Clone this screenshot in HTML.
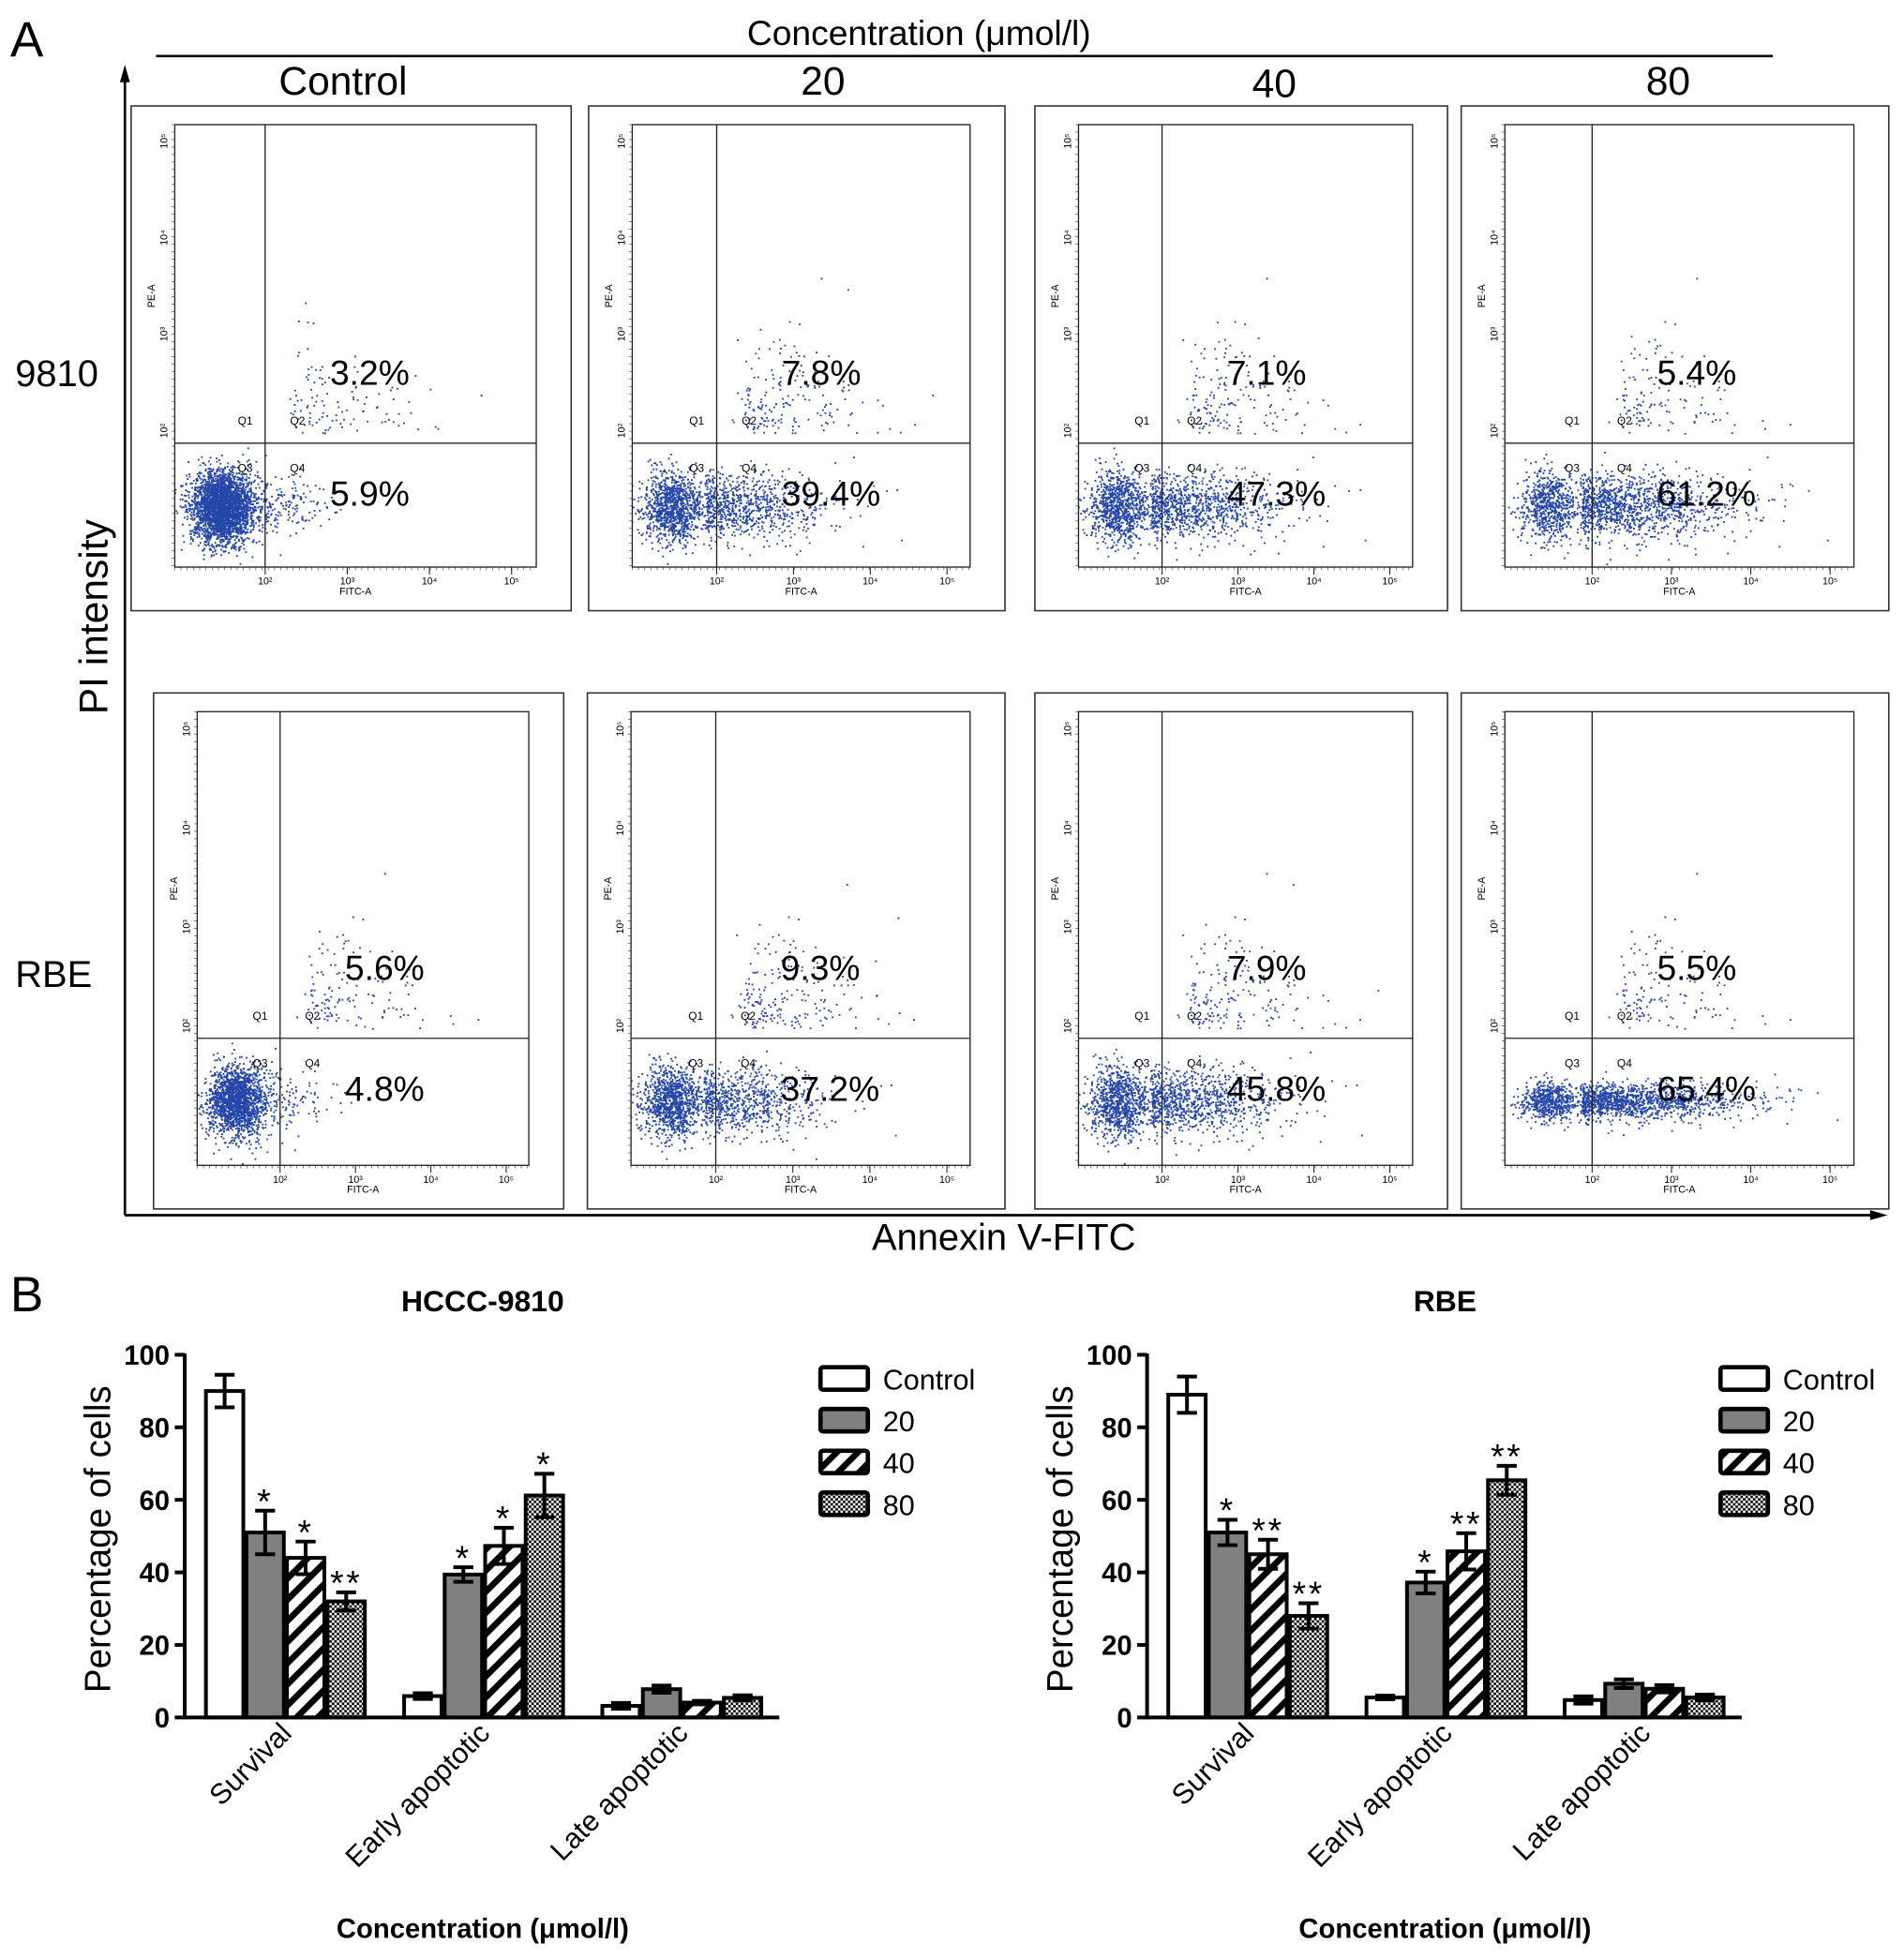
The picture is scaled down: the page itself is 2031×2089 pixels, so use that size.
<!DOCTYPE html>
<html><head><meta charset="utf-8"><style>
html,body{margin:0;padding:0;background:#fff}
svg{display:block}
text{font-family:"Liberation Sans",Arial,sans-serif}
</style></head><body>
<svg id="fig" width="2031" height="2089" viewBox="0 0 1527 1571" xmlns="http://www.w3.org/2000/svg">
<defs id="defs">
<pattern id="stripe" patternUnits="userSpaceOnUse" width="12" height="12" patternTransform="rotate(45)">
<rect width="12" height="12" fill="#fff"/><rect width="5" height="12" fill="#000"/></pattern>
<pattern id="check" patternUnits="userSpaceOnUse" width="4" height="4">
<rect width="4" height="4" fill="#fff"/><rect width="2" height="2" fill="#000"/><rect x="2" y="2" width="2" height="2" fill="#000"/></pattern>
</defs>
<text x="8" y="45" font-size="40">A</text>
<text x="737" y="36" font-size="28" text-anchor="middle">Concentration (μmol/l)</text>
<line x1="125" y1="45" x2="1422" y2="45" stroke="#000" stroke-width="2"/>
<text x="275" y="76" font-size="32" text-anchor="middle">Control</text>
<text x="660" y="76" font-size="32" text-anchor="middle">20</text>
<text x="1022" y="78" font-size="32" text-anchor="middle">40</text>
<text x="1338" y="76" font-size="32" text-anchor="middle">80</text>
<line x1="100" y1="975" x2="100" y2="60" stroke="#000" stroke-width="2"/>
<polygon points="100,52 96,66 104,66" fill="#000"/>
<line x1="100" y1="975" x2="1505" y2="975" stroke="#000" stroke-width="2"/>
<polygon points="1514,975 1500,971 1500,979" fill="#000"/>
<text transform="translate(86,495) rotate(-90)" font-size="32" text-anchor="middle">PI  intensity</text>
<text x="805" y="1003" font-size="30" text-anchor="middle">Annexin V-FITC</text>
<text x="12" y="310" font-size="30">9810</text>
<text x="12" y="792" font-size="30">RBE</text>
<text x="8" y="1052" font-size="40">B</text>
<g id="flow"></g>
<g id="bars"></g>
</svg>
<script>
// Flow cytometry data
const flowRows = ["9810","RBE"];
const flowCols = ["Control","20","40","80"];
const q2Pct = [[3.2,7.8,7.1,5.4],[5.6,9.3,7.9,5.5]];
const q4Pct = [[5.9,39.4,47.3,61.2],[4.8,37.2,45.8,65.4]];
// Bar chart data
const barCategories = ["Survival","Early apoptotic","Late apoptotic"];
const seriesNames = ["Control","20","40","80"];
const hcccValues = [[90,51,44,32],[5.9,39.4,47.3,61.2],[3.2,7.8,4.1,5.4]];
const hcccErrors = [[4.5,6,4.5,2.5],[0.8,2,5,6],[0.8,1,0.5,0.7]];
const hcccStars = [["","*","*","**"],["","*","*","*"],["","","",""]];
const rbeValues = [[89,51,45,28],[5.5,37.2,45.8,65.4],[4.8,9.3,7.9,5.5]];
const rbeErrors = [[5,3.5,4,3.5],[0.5,3,5,4],[1,1.2,1,0.8]];
const rbeStars = [["","*","**","**"],["","*","**","**"],["","","",""]];
const yTicks = [0,20,40,60,80,100];

const NS="http://www.w3.org/2000/svg";
function mk(parent,tag,attrs,txt){const e=document.createElementNS(NS,tag);for(const k in attrs)e.setAttribute(k,attrs[k]);if(txt!==undefined)e.textContent=txt;parent.appendChild(e);return e;}

let seed=12345;
function rnd(){seed=(seed*1103515245+12345)%2147483648;return seed/2147483648;}
function gauss(){let u=rnd()||1e-6,v=rnd();return Math.sqrt(-2*Math.log(u))*Math.cos(2*Math.PI*v);}

const flow=document.getElementById('flow');
const defs=document.getElementById('defs');
const panelX=[[105,472,830,1172],[123,471,830,1172]];
const panelW=[[353,334,331,343],[329,335,331,343]];
const panelY=[85,556], panelH=[405,414];
for(let r=0;r<2;r++)for(let c=0;c<4;c++){
  const px=panelX[r][c],py=panelY[r],pw=panelW[r][c],ph=panelH[r];
  const g=mk(flow,'g',{});
  
  
  mk(g,'rect',{x:px,y:py,width:pw,height:ph,fill:'#fff',stroke:'#333','stroke-width':1.2});
  const L=px+35,R=px+pw-28,T=py+15,B=py+ph-35;
  const cp=mk(defs,'clipPath',{id:'cp'+r+c});
  mk(cp,'rect',{x:L,y:T,width:R-L,height:B-T});
  for(let i=L;i<R;i+=5)mk(g,'line',{x1:i,y1:B,x2:i,y2:B+2.5,stroke:'#444','stroke-width':0.5});
  for(let i=T;i<B;i+=6)mk(g,'line',{x1:L-2.5,y1:i,x2:L,y2:i,stroke:'#444','stroke-width':0.5});
  const vx=L+(R-L)*0.25, hy=T+(B-T)*0.72;
  for(let i=0;i<4;i++){const tx=vx+(R-vx)*i/3.3;mk(g,'line',{x1:tx,y1:B,x2:tx,y2:B+6,stroke:'#222','stroke-width':0.8});}
  mk(g,'text',{x:(L+R)/2,y:B+22,'font-size':8,'text-anchor':'middle'},'FITC-A');
  mk(g,'text',{transform:`translate(${L-16},${(T+B)/2-40}) rotate(-90)`,'font-size':8,'text-anchor':'middle'},'PE-A');
  const xl=['10²','10³','10⁴','10⁵'];
  for(let i=0;i<4;i++)mk(g,'text',{x:vx+(R-vx)*i/3.3,y:B+14,'font-size':8,'text-anchor':'middle'},xl[i]);
  for(let i=0;i<4;i++)mk(g,'text',{transform:`translate(${L-6},${hy-10-(hy-T)*i/3.3}) rotate(-90)`,'font-size':8,'text-anchor':'middle'},xl[i]);
  const n=5000,f2=q2Pct[r][c]/100,f4=q4Pct[r][c]/100;
  const cx0=vx-35, cy0=hy+50;
  const flat=(r==1&&c==3)?0.55:1;
  let d='';
  for(let k=0;k<n;k++){
    const u=rnd();let x,y;
    if(u<f2){x=vx+10+Math.abs(gauss())*50+rnd()*20;y=hy-8-Math.abs(gauss())*35;}
    else if(u<f2+f4){x=vx-10+Math.abs(gauss())*(25+f4*55);y=cy0+gauss()*13*flat;}
    else{x=cx0+gauss()*12;y=cy0+gauss()*14*flat;if(x>vx+8)x=vx-rnd()*15;}
    d+=`M${x.toFixed(1)} ${y.toFixed(1)}h1.4v1.4h-1.4z`;
  }
  const dots=mk(g,'path',{d:d,fill:'#2346a8','clip-path':`url(#cp${r}${c})`});
  
  
  mk(g,'rect',{x:L,y:T,width:R-L,height:B-T,fill:'none',stroke:'#222','stroke-width':1});
  mk(g,'line',{x1:vx,y1:T,x2:vx,y2:B,stroke:'#222','stroke-width':1});
  mk(g,'line',{x1:L,y1:hy,x2:R,y2:hy,stroke:'#222','stroke-width':1});
  mk(g,'text',{x:vx-22,y:hy-15,'font-size':9},'Q1');
  mk(g,'text',{x:vx+20,y:hy-15,'font-size':9},'Q2');
  mk(g,'text',{x:vx-22,y:hy+23,'font-size':9},'Q3');
  mk(g,'text',{x:vx+20,y:hy+23,'font-size':9},'Q4');
  const t2=mk(g,'text',{x:vx+52,y:hy-47,'font-size':28},q2Pct[r][c]+'%');
  
  
  const t4=mk(g,'text',{x:vx+52,y:hy+50,'font-size':28},q4Pct[r][c]+'%');
  
  
}

const fills=['#fff','#808080','url(#stripe)','url(#check)'];
function barChart(ax,title,vals,errs,stars,legX,name){
  const g=mk(document.getElementById('bars'),'g',{});
  
  
  const y0=1378,pxPer=2.91;
  const ys=v=>y0-v*pxPer;
  const t=mk(g,'text',{x:ax+239,y:1052,'font-size':24,'font-weight':'bold','text-anchor':'middle'},title);
  
  
  for(let gi=0;gi<barCategories.length;gi++){
    for(let s=0;s<4;s++){
      const x=ax+17+gi*159+s*32.5, w=30, v=vals[gi][s];
      const b=mk(g,'rect',{x:x,y:ys(v),width:w,height:v*pxPer,fill:fills[s],stroke:'#000','stroke-width':3});
      
      
      const e=errs[gi][s],cx=x+w/2;
      mk(g,'path',{d:`M${cx} ${ys(v-e)}V${ys(v+e)}M${cx-8} ${ys(v+e)}h16M${cx-8} ${ys(v-e)}h16`,stroke:'#000','stroke-width':3,fill:'none'});
      if(stars[gi][s]){const st=mk(g,'text',{x:cx,y:ys(v+e)+2,'font-size':28,'text-anchor':'middle','letter-spacing':'2'},stars[gi][s]);
        
        }
    }
    const lx=ax+17+gi*159+65;
    const xl=mk(g,'text',{transform:`translate(${lx+5},${1392}) rotate(-45)`,'font-size':23,'text-anchor':'end'},barCategories[gi]);
    
    
  }
  mk(g,'line',{x1:ax,y1:ys(100)-1,x2:ax,y2:y0+1.5,stroke:'#000','stroke-width':3});
  mk(g,'line',{x1:ax,y1:y0,x2:ax+477,y2:y0,stroke:'#000','stroke-width':3});
  yTicks.forEach(v=>{
    mk(g,'line',{x1:ax-8,y1:ys(v),x2:ax,y2:ys(v),stroke:'#000','stroke-width':3});
    const tl=mk(g,'text',{x:ax-12,y:ys(v)+8,'font-size':22,'font-weight':'bold','text-anchor':'end'},v);
    
    
  });
  const yt=mk(g,'text',{transform:`translate(${ax-60},1235) rotate(-90)`,'font-size':29,'text-anchor':'middle'},'Percentage of cells');
  
  
  const xt=mk(g,'text',{x:ax+239,y:1555,'font-size':22,'font-weight':'bold','text-anchor':'middle'},'Concentration (μmol/l)');
  
  
  seriesNames.forEach((s,i)=>{
    const yy=1106+i*33.5;
    const le=mk(g,'g',{});
    
    
    mk(le,'rect',{x:legX,y:yy-9,width:38,height:18,rx:2,fill:fills[i],stroke:'#000','stroke-width':3.5});
    mk(le,'text',{x:legX+50,y:yy+9,'font-size':23},s);
  });
}
barChart(148,'HCCC-9810',hcccValues,hcccErrors,hcccStars,658,'chart-hccc-9810');
barChart(920,'RBE',rbeValues,rbeErrors,rbeStars,1380,'chart-rbe');
</script>
</body></html>
